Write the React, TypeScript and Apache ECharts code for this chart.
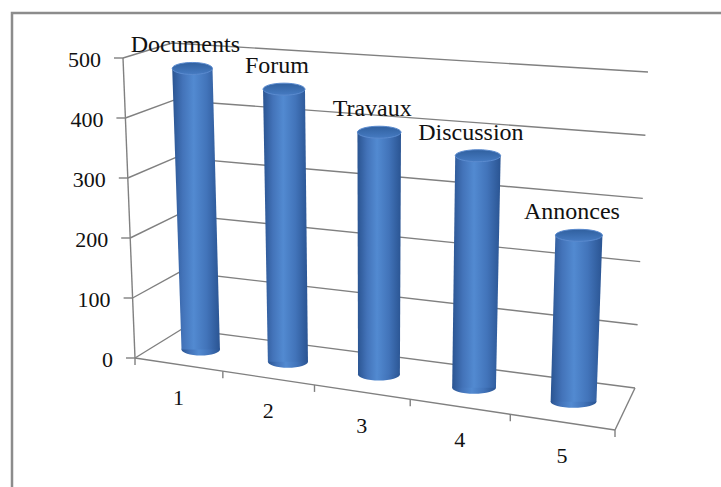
import React, { useEffect, useRef } from "react";
import * as echarts from "echarts";

// ---- data ----
const categories = ["Documents", "Forum", "Travaux", "Discussion", "Annonces"];
const xTickLabels = ["1", "2", "3", "4", "5"];
const values = [475, 452, 394, 370, 260];
const yTicks = [0, 100, 200, 300, 400, 500];

// ---- 3D box projection (layout of the perspective box) ----
const FLB = [135, 358];
const FRB = [615, 430];
const BLB = [182, 329];
const BRB = [635, 388];
const FLT = [123, 58];
const FRT = [628, 99];
const BLT = [172, 43];
const BRT = [648, 72];
const K = 0.896;
const GRID = "#808080";
const FAMILY = "Liberation Serif";

function lerp(a: number[], b: number[], t: number) {
  return [a[0] + (b[0] - a[0]) * t, a[1] + (b[1] - a[1]) * t];
}
function proj(u: number, w: number, d: number) {
  const up = (K * u) / (1 + (K - 1) * u);
  const bot = lerp(lerp(FLB, FRB, up), lerp(BLB, BRB, up), d);
  const top = lerp(lerp(FLT, FRT, up), lerp(BLT, BRT, up), d);
  return lerp(bot, top, w);
}
function norm(params: any, api: any, x: number, v: number) {
  const p = api.coord([x, v]);
  const cs = params.coordSys;
  return [(p[0] - cs.x) / cs.width, (cs.y + cs.height - p[1]) / cs.height];
}
function txt(text: string, x: number, y: number, size: number, align: string) {
  return {
    type: "text",
    style: {
      text,
      x,
      y,
      align,
      verticalAlign: "middle",
      fontFamily: FAMILY,
      fontSize: size,
      fontWeight: "normal",
      fill: "#111111",
    },
  };
}

export default function App() {
  const ref = useRef<HTMLDivElement>(null);
  useEffect(() => {
    document.body.style.margin = "0";
    const chart = echarts.init(ref.current!, null, { renderer: "svg" });
    const wallSeries = {
      type: "custom",
      silent: true,
      z: 1,
      data: [[0, 0]],
      renderItem: (params: any, api: any) => {
        const children: any[] = [];
        const L = (a: number[], b: number[]) =>
          children.push({
            type: "line",
            shape: { x1: a[0], y1: a[1], x2: b[0], y2: b[1] },
            style: { stroke: GRID, lineWidth: 1.4 },
          });
        yTicks.forEach((t) => {
          const w = norm(params, api, 0, t)[1];
          const a = proj(0, w, 0);
          const b = proj(0, w, 1);
          const c = proj(1, w, 1);
          L(a, b);
          L(b, c);
          L([a[0] - 9, a[1]], a);
          children.push(txt(String(t), a[0] - 22, a[1] + 1, 22, "right"));
        });
        const wTop = norm(params, api, 0, yTicks[yTicks.length - 1])[1];
        L(proj(0, 0, 0), proj(0, wTop, 0));
        L(proj(0, 0, 0), proj(1, 0, 0));
        L(proj(1, 0, 0), proj(1, 0, 1));
        for (let i = 0; i <= xTickLabels.length; i++) {
          const u = norm(params, api, i, 0)[0];
          const p = proj(u, 0, 0);
          L(p, [p[0], p[1] + 7]);
        }
        xTickLabels.forEach((lab, i) => {
          const u = norm(params, api, i + 0.5, 0)[0];
          const p = proj(u, 0, 0);
          children.push(txt(lab, p[0], p[1] + 33, 22, "center"));
        });
        return { type: "group", children };
      },
    };

    const bodyGrad = () =>
      new echarts.graphic.LinearGradient(0, 0, 1, 0, [
        { offset: 0, color: "#2a5491" },
        { offset: 0.22, color: "#4373b9" },
        { offset: 0.45, color: "#528ad1" },
        { offset: 0.72, color: "#4274ba" },
        { offset: 1, color: "#2a5492" },
      ]);

    const barSeries = {
      type: "custom",
      z: 2,
      silent: true,
      encode: { x: 0, y: 1 },
      data: values.map((v, i) => [i + 0.5, v, i]),
      renderItem: (params: any, api: any) => {
        const xi = api.value(0);
        const v = api.value(1);
        const idx = api.value(2);
        const [uc, w] = norm(params, api, xi, v);
        const ul = norm(params, api, xi - 0.225, 0)[0];
        const ur = norm(params, api, xi + 0.225, 0)[0];
        const tl = proj(ul, w, 0.5);
        const tr = proj(ur, w, 0.5);
        const bl = proj(ul, 0, 0.5);
        const br = proj(ur, 0, 0.5);
        const tc = proj(uc, w, 0.5);
        const bc = proj(uc, 0, 0.5);
        const rxT = (tr[0] - tl[0]) / 2;
        const rxB = (br[0] - bl[0]) / 2;
        const ry = 6;
        return {
          type: "group",
          children: [
            {
              type: "ellipse",
              shape: { cx: bc[0], cy: bc[1], rx: rxB, ry },
              style: { fill: bodyGrad() },
            },
            {
              type: "polygon",
              shape: {
                points: [
                  [tc[0] - rxT, tc[1]],
                  [tc[0] + rxT, tc[1]],
                  [bc[0] + rxB, bc[1]],
                  [bc[0] - rxB, bc[1]],
                ],
              },
              style: { fill: bodyGrad() },
            },
            {
              type: "ellipse",
              shape: { cx: tc[0], cy: tc[1], rx: rxT, ry },
              style: {
                fill: new echarts.graphic.LinearGradient(0, 0, 0, 1, [
                  { offset: 0, color: "#30609f" },
                  { offset: 1, color: "#467bc2" },
                ]),
                stroke: "#5b8bcf",
                lineWidth: 1,
              },
            },
            txt(String(categories[idx]), tc[0] - 7, tc[1] - ry - 18, 24, "center"),
          ],
        };
      },
    };

    chart.setOption({
      animation: false,
      backgroundColor: "#ffffff",
      textStyle: { fontFamily: FAMILY },
      grid: { left: 0, top: 0, right: 0, bottom: 0 },
      xAxis: { type: "value", min: 0, max: 5, show: false },
      yAxis: { type: "value", min: 0, max: 500, interval: 100, show: false },
      graphic: [
        {
          type: "rect",
          silent: true,
          shape: { x: 12, y: 13, width: 730, height: 490 },
          style: { fill: "none", stroke: "#8c8c8c", lineWidth: 2.5 },
        },
      ],
      series: [wallSeries, barSeries],
    });
    return () => chart.dispose();
  }, []);
  return <div ref={ref} style={{ width: 721, height: 487 }} />;
}
